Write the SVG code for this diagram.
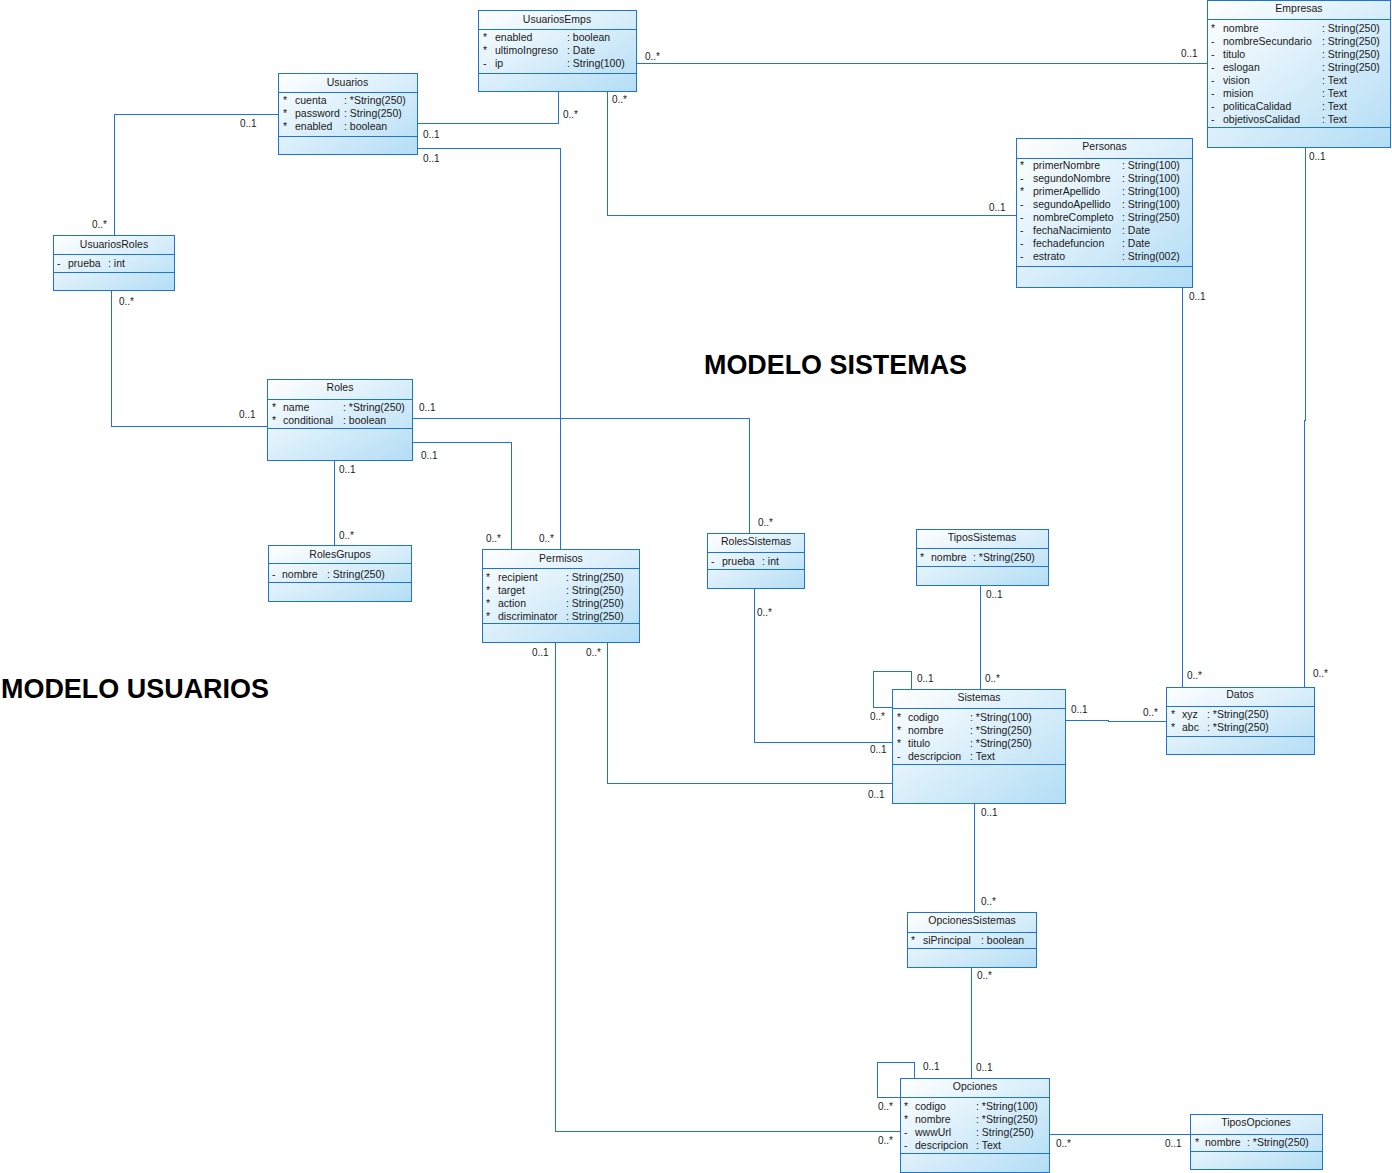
<svg xmlns="http://www.w3.org/2000/svg" width="1392" height="1173" viewBox="0 0 1392 1173">
<defs>
<linearGradient id="g" x1="0" y1="0" x2="1" y2="1">
<stop offset="0" stop-color="#ffffff"/>
<stop offset="1" stop-color="#b3ddf5"/>
</linearGradient>
<style>
.box{fill:url(#g);stroke:#1f73d3;stroke-width:1;shape-rendering:crispEdges}
.sep{stroke:#1f73d3;stroke-width:1;shape-rendering:crispEdges}
.c{fill:none;stroke:#1f73d3;stroke-width:1;shape-rendering:crispEdges}
text{font-family:"Liberation Sans",Arial,sans-serif;font-size:10.5px;fill:#1a1a1a}
.h{text-anchor:middle}
.lbl{font-size:10px}
.title{font-size:27px;font-weight:bold;fill:#000}
</style>
</defs>
<rect width="1392" height="1173" fill="#ffffff"/>

<g id="connectors">
<polyline class="c" points="417.5,123.5 558.5,123.5 558.5,91"/>
<polyline class="c" points="417.5,148.5 560.5,148.5 560.5,549"/>
<polyline class="c" points="607.5,91 607.5,215.5 1016,215.5"/>
<polyline class="c" points="636,63.5 1207,63.5"/>
<polyline class="c" points="278,114.5 114.5,114.5 114.5,235"/>
<polyline class="c" points="111.5,290 111.5,426.5 267,426.5"/>
<polyline class="c" points="412,418.5 749.5,418.5 749.5,533"/>
<polyline class="c" points="412,442.5 511.5,442.5 511.5,549"/>
<polyline class="c" points="334.5,460 334.5,545"/>
<polyline class="c" points="555.5,642 555.5,1131.5 900,1131.5"/>
<polyline class="c" points="607.5,642 607.5,783.5 892,783.5"/>
<polyline class="c" points="754.5,588 754.5,742.5 892,742.5"/>
<polyline class="c" points="911.5,689 911.5,671.5 873.5,671.5 873.5,707.5 892,707.5"/>
<polyline class="c" points="980.5,585 980.5,689"/>
<polyline class="c" points="1065,720.5 1108.5,720.5 1108.5,721.5 1166,721.5"/>
<polyline class="c" points="1182.5,287 1182.5,687"/>
<polyline class="c" points="1305.5,147 1305.5,420 1304.5,420 1304.5,687"/>
<polyline class="c" points="974.5,803 974.5,912"/>
<polyline class="c" points="971.5,967 971.5,1078"/>
<polyline class="c" points="914.5,1078 914.5,1062.5 877.5,1062.5 877.5,1097.5 900,1097.5"/>
<polyline class="c" points="1049,1134.5 1190,1134.5"/>
</g>

<g id="labels">
<text class="lbl" x="563" y="118">0..*</text>
<text class="lbl" x="423" y="138">0..1</text>
<text class="lbl" x="423" y="162">0..1</text>
<text class="lbl" x="612" y="103">0..*</text>
<text class="lbl" x="989" y="211">0..1</text>
<text class="lbl" x="645" y="60">0..*</text>
<text class="lbl" x="1181" y="57">0..1</text>
<text class="lbl" x="240" y="127">0..1</text>
<text class="lbl" x="92" y="228">0..*</text>
<text class="lbl" x="119" y="305">0..*</text>
<text class="lbl" x="239" y="418">0..1</text>
<text class="lbl" x="419" y="411">0..1</text>
<text class="lbl" x="758" y="526">0..*</text>
<text class="lbl" x="421" y="459">0..1</text>
<text class="lbl" x="486" y="542">0..*</text>
<text class="lbl" x="539" y="542">0..*</text>
<text class="lbl" x="339" y="473">0..1</text>
<text class="lbl" x="339" y="539">0..*</text>
<text class="lbl" x="532" y="656">0..1</text>
<text class="lbl" x="878" y="1144">0..*</text>
<text class="lbl" x="586" y="656">0..*</text>
<text class="lbl" x="868" y="798">0..1</text>
<text class="lbl" x="757" y="616">0..*</text>
<text class="lbl" x="870" y="753">0..1</text>
<text class="lbl" x="917" y="682">0..1</text>
<text class="lbl" x="870" y="720">0..*</text>
<text class="lbl" x="986" y="598">0..1</text>
<text class="lbl" x="985" y="682">0..*</text>
<text class="lbl" x="1071" y="713">0..1</text>
<text class="lbl" x="1143" y="716">0..*</text>
<text class="lbl" x="1189" y="300">0..1</text>
<text class="lbl" x="1187" y="679">0..*</text>
<text class="lbl" x="1309" y="160">0..1</text>
<text class="lbl" x="1313" y="677">0..*</text>
<text class="lbl" x="981" y="816">0..1</text>
<text class="lbl" x="981" y="905">0..*</text>
<text class="lbl" x="977" y="979">0..*</text>
<text class="lbl" x="976" y="1071">0..1</text>
<text class="lbl" x="923" y="1070">0..1</text>
<text class="lbl" x="878" y="1110">0..*</text>
<text class="lbl" x="1056" y="1147">0..*</text>
<text class="lbl" x="1165" y="1147">0..1</text>
</g>

<g id="UsuariosEmps">
<rect class="box" x="478.5" y="10.5" width="158" height="81"/>
<line class="sep" x1="478.5" y1="29.5" x2="636.5" y2="29.5"/>
<line class="sep" x1="478.5" y1="73.5" x2="636.5" y2="73.5"/>
<text class="h" x="557" y="23">UsuariosEmps</text>
<text x="483" y="41">*</text><text x="495" y="41">enabled</text><text x="567" y="41">: boolean</text>
<text x="483" y="54">*</text><text x="495" y="54">ultimoIngreso</text><text x="567" y="54">: Date</text>
<text x="483" y="67">-</text><text x="495" y="67">ip</text><text x="567" y="67">: String(100)</text>
</g>

<g id="Usuarios">
<rect class="box" x="278.5" y="73.5" width="139" height="81"/>
<line class="sep" x1="278.5" y1="92.5" x2="417.5" y2="92.5"/>
<line class="sep" x1="278.5" y1="136.5" x2="417.5" y2="136.5"/>
<text class="h" x="347.5" y="86">Usuarios</text>
<text x="283" y="104">*</text><text x="295" y="104">cuenta</text><text x="344" y="104">: *String(250)</text>
<text x="283" y="117">*</text><text x="295" y="117">password</text><text x="344" y="117">: String(250)</text>
<text x="283" y="130">*</text><text x="295" y="130">enabled</text><text x="344" y="130">: boolean</text>
</g>

<g id="Empresas">
<rect class="box" x="1207.5" y="0.5" width="183" height="147"/>
<line class="sep" x1="1207.5" y1="19.5" x2="1390.5" y2="19.5"/>
<line class="sep" x1="1207.5" y1="127.5" x2="1390.5" y2="127.5"/>
<text class="h" x="1299" y="12">Empresas</text>
<text x="1211" y="32">*</text><text x="1223" y="32">nombre</text><text x="1322" y="32">: String(250)</text>
<text x="1211" y="45">-</text><text x="1223" y="45">nombreSecundario</text><text x="1322" y="45">: String(250)</text>
<text x="1211" y="58">-</text><text x="1223" y="58">titulo</text><text x="1322" y="58">: String(250)</text>
<text x="1211" y="71">-</text><text x="1223" y="71">eslogan</text><text x="1322" y="71">: String(250)</text>
<text x="1211" y="84">-</text><text x="1223" y="84">vision</text><text x="1322" y="84">: Text</text>
<text x="1211" y="97">-</text><text x="1223" y="97">mision</text><text x="1322" y="97">: Text</text>
<text x="1211" y="110">-</text><text x="1223" y="110">politicaCalidad</text><text x="1322" y="110">: Text</text>
<text x="1211" y="123">-</text><text x="1223" y="123">objetivosCalidad</text><text x="1322" y="123">: Text</text>
</g>

<g id="Personas">
<rect class="box" x="1016.5" y="138.5" width="176" height="149"/>
<line class="sep" x1="1016.5" y1="158.5" x2="1192.5" y2="158.5"/>
<line class="sep" x1="1016.5" y1="266.5" x2="1192.5" y2="266.5"/>
<text class="h" x="1104.5" y="150">Personas</text>
<text x="1020" y="169">*</text><text x="1033" y="169">primerNombre</text><text x="1122" y="169">: String(100)</text>
<text x="1020" y="182">-</text><text x="1033" y="182">segundoNombre</text><text x="1122" y="182">: String(100)</text>
<text x="1020" y="195">*</text><text x="1033" y="195">primerApellido</text><text x="1122" y="195">: String(100)</text>
<text x="1020" y="208">-</text><text x="1033" y="208">segundoApellido</text><text x="1122" y="208">: String(100)</text>
<text x="1020" y="221">-</text><text x="1033" y="221">nombreCompleto</text><text x="1122" y="221">: String(250)</text>
<text x="1020" y="234">-</text><text x="1033" y="234">fechaNacimiento</text><text x="1122" y="234">: Date</text>
<text x="1020" y="247">-</text><text x="1033" y="247">fechadefuncion</text><text x="1122" y="247">: Date</text>
<text x="1020" y="260">-</text><text x="1033" y="260">estrato</text><text x="1122" y="260">: String(002)</text>
</g>

<g id="UsuariosRoles">
<rect class="box" x="53.5" y="235.5" width="121" height="55"/>
<line class="sep" x1="53.5" y1="254.5" x2="174.5" y2="254.5"/>
<line class="sep" x1="53.5" y1="272.5" x2="174.5" y2="272.5"/>
<text class="h" x="114" y="248">UsuariosRoles</text>
<text x="57" y="267">-</text><text x="68" y="267">prueba</text><text x="108" y="267">: int</text>
</g>

<g id="Roles">
<rect class="box" x="267.5" y="379.5" width="145" height="81"/>
<line class="sep" x1="267.5" y1="399.5" x2="412.5" y2="399.5"/>
<line class="sep" x1="267.5" y1="428.5" x2="412.5" y2="428.5"/>
<text class="h" x="340" y="391">Roles</text>
<text x="272" y="411">*</text><text x="283" y="411">name</text><text x="343" y="411">: *String(250)</text>
<text x="272" y="424">*</text><text x="283" y="424">conditional</text><text x="343" y="424">: boolean</text>
</g>

<g id="RolesGrupos">
<rect class="box" x="268.5" y="545.5" width="143" height="56"/>
<line class="sep" x1="268.5" y1="563.5" x2="411.5" y2="563.5"/>
<line class="sep" x1="268.5" y1="582.5" x2="411.5" y2="582.5"/>
<text class="h" x="340" y="558">RolesGrupos</text>
<text x="272" y="578">-</text><text x="282" y="578">nombre</text><text x="327" y="578">: String(250)</text>
</g>

<g id="Permisos">
<rect class="box" x="482.5" y="549.5" width="157" height="93"/>
<line class="sep" x1="482.5" y1="568.5" x2="639.5" y2="568.5"/>
<line class="sep" x1="482.5" y1="623.5" x2="639.5" y2="623.5"/>
<text class="h" x="561" y="562">Permisos</text>
<text x="486" y="581">*</text><text x="498" y="581">recipient</text><text x="566" y="581">: String(250)</text>
<text x="486" y="594">*</text><text x="498" y="594">target</text><text x="566" y="594">: String(250)</text>
<text x="486" y="607">*</text><text x="498" y="607">action</text><text x="566" y="607">: String(250)</text>
<text x="486" y="620">*</text><text x="498" y="620">discriminator</text><text x="566" y="620">: String(250)</text>
</g>

<g id="RolesSistemas">
<rect class="box" x="707.5" y="533.5" width="97" height="55"/>
<line class="sep" x1="707.5" y1="552.5" x2="804.5" y2="552.5"/>
<line class="sep" x1="707.5" y1="569.5" x2="804.5" y2="569.5"/>
<text class="h" x="756" y="545">RolesSistemas</text>
<text x="711" y="565">-</text><text x="722" y="565">prueba</text><text x="762" y="565">: int</text>
</g>

<g id="TiposSistemas">
<rect class="box" x="916.5" y="529.5" width="132" height="56"/>
<line class="sep" x1="916.5" y1="548.5" x2="1048.5" y2="548.5"/>
<line class="sep" x1="916.5" y1="566.5" x2="1048.5" y2="566.5"/>
<text class="h" x="982" y="541">TiposSistemas</text>
<text x="920" y="561">*</text><text x="931" y="561">nombre</text><text x="973" y="561">: *String(250)</text>
</g>

<g id="Sistemas">
<rect class="box" x="892.5" y="689.5" width="173" height="114"/>
<line class="sep" x1="892.5" y1="708.5" x2="1065.5" y2="708.5"/>
<line class="sep" x1="892.5" y1="764.5" x2="1065.5" y2="764.5"/>
<text class="h" x="979" y="701">Sistemas</text>
<text x="897" y="721">*</text><text x="908" y="721">codigo</text><text x="970" y="721">: *String(100)</text>
<text x="897" y="734">*</text><text x="908" y="734">nombre</text><text x="970" y="734">: *String(250)</text>
<text x="897" y="747">*</text><text x="908" y="747">titulo</text><text x="970" y="747">: *String(250)</text>
<text x="897" y="760">-</text><text x="908" y="760">descripcion</text><text x="970" y="760">: Text</text>
</g>

<g id="Datos">
<rect class="box" x="1166.5" y="687.5" width="148" height="67"/>
<line class="sep" x1="1166.5" y1="706.5" x2="1314.5" y2="706.5"/>
<line class="sep" x1="1166.5" y1="736.5" x2="1314.5" y2="736.5"/>
<text class="h" x="1240" y="698">Datos</text>
<text x="1171" y="718">*</text><text x="1182" y="718">xyz</text><text x="1207" y="718">: *String(250)</text>
<text x="1171" y="731">*</text><text x="1182" y="731">abc</text><text x="1207" y="731">: *String(250)</text>
</g>

<g id="OpcionesSistemas">
<rect class="box" x="907.5" y="912.5" width="129" height="55"/>
<line class="sep" x1="907.5" y1="932.5" x2="1036.5" y2="932.5"/>
<line class="sep" x1="907.5" y1="948.5" x2="1036.5" y2="948.5"/>
<text class="h" x="972" y="924">OpcionesSistemas</text>
<text x="911" y="944">*</text><text x="923" y="944">siPrincipal</text><text x="981" y="944">: boolean</text>
</g>

<g id="Opciones">
<rect class="box" x="900.5" y="1078.5" width="149" height="94"/>
<line class="sep" x1="900.5" y1="1097.5" x2="1049.5" y2="1097.5"/>
<line class="sep" x1="900.5" y1="1153.5" x2="1049.5" y2="1153.5"/>
<text class="h" x="975" y="1090">Opciones</text>
<text x="904" y="1110">*</text><text x="915" y="1110">codigo</text><text x="976" y="1110">: *String(100)</text>
<text x="904" y="1123">*</text><text x="915" y="1123">nombre</text><text x="976" y="1123">: *String(250)</text>
<text x="904" y="1136">-</text><text x="915" y="1136">wwwUrl</text><text x="976" y="1136">: String(250)</text>
<text x="904" y="1149">-</text><text x="915" y="1149">descripcion</text><text x="976" y="1149">: Text</text>
</g>

<g id="TiposOpciones">
<rect class="box" x="1190.5" y="1114.5" width="132" height="55"/>
<line class="sep" x1="1190.5" y1="1134.5" x2="1322.5" y2="1134.5"/>
<line class="sep" x1="1190.5" y1="1151.5" x2="1322.5" y2="1151.5"/>
<text class="h" x="1256" y="1126">TiposOpciones</text>
<text x="1195" y="1146">*</text><text x="1205" y="1146">nombre</text><text x="1247" y="1146">: *String(250)</text>
</g>

<g id="titles">
<text class="title" x="704" y="374" textLength="263" lengthAdjust="spacingAndGlyphs">MODELO SISTEMAS</text>
<text class="title" x="1" y="698" textLength="268" lengthAdjust="spacingAndGlyphs">MODELO USUARIOS</text>
</g>
</svg>
